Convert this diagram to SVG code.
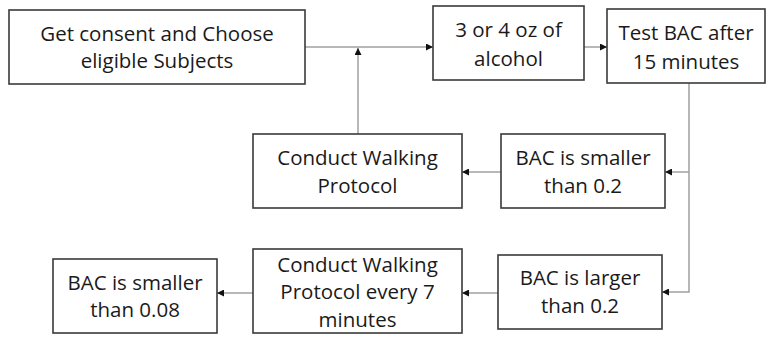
<svg xmlns="http://www.w3.org/2000/svg" width="766" height="337" viewBox="0 0 766 337">
<style>
.box{fill:#fff;stroke:#3a3a3a;stroke-width:1.6}
.t{font-family:"Open Sans","Liberation Sans",Arial,sans-serif;font-size:20.5px;fill:#1a1a1a;text-anchor:middle}
.c{fill:none;stroke:#a0a0a0;stroke-width:1.5}
</style>
<defs>
<marker id="ah" viewBox="0 0 10 10" refX="10" refY="5" markerWidth="7" markerHeight="7" markerUnits="userSpaceOnUse" orient="auto">
<path d="M0,0 L10,5 L0,10 z" fill="#111"/>
</marker>
</defs>
<rect width="766" height="337" fill="#fff"/>
<g id="connectors">
<path class="c" d="M305,47 H433" marker-end="url(#ah)"/>
<path class="c" d="M358,134 V48" marker-end="url(#ah)"/>
<path class="c" d="M584,47 H607" marker-end="url(#ah)"/>
<path class="c" d="M689,83 V292 H662" marker-end="url(#ah)"/>
<path class="c" d="M689,172 H665" marker-end="url(#ah)"/>
<path class="c" d="M501,172 H462" marker-end="url(#ah)"/>
<path class="c" d="M498,293 H462" marker-end="url(#ah)"/>
<path class="c" d="M253,293 H217" marker-end="url(#ah)"/>
</g>
<g id="consent">
<rect class="box" x="9" y="10" width="296" height="74"/>
<text class="t" x="157" y="41">Get consent and Choose</text>
<text class="t" x="157" y="68">eligible Subjects</text>
</g>
<g id="alcohol">
<rect class="box" x="433" y="6" width="151" height="74"/>
<text class="t" x="508.5" y="37">3 or 4 oz of</text>
<text class="t" x="508.5" y="66">alcohol</text>
</g>
<g id="testbac">
<rect class="box" x="607" y="9" width="158" height="74"/>
<text class="t" x="686" y="40">Test BAC after</text>
<text class="t" x="686" y="69">15 minutes</text>
</g>
<g id="walk1">
<rect class="box" x="253" y="134" width="209" height="74"/>
<text class="t" x="357.5" y="165">Conduct Walking</text>
<text class="t" x="357.5" y="193">Protocol</text>
</g>
<g id="smaller02">
<rect class="box" x="501" y="134" width="164" height="74"/>
<text class="t" x="583" y="165">BAC is smaller</text>
<text class="t" x="583" y="193">than 0.2</text>
</g>
<g id="smaller008">
<rect class="box" x="53" y="259" width="164" height="74"/>
<text class="t" x="135" y="290">BAC is smaller</text>
<text class="t" x="135" y="317">than 0.08</text>
</g>
<g id="walk7">
<rect class="box" x="253" y="249" width="209" height="84"/>
<text class="t" x="357.5" y="272">Conduct Walking</text>
<text class="t" x="357.5" y="299">Protocol every 7</text>
<text class="t" x="357.5" y="327">minutes</text>
</g>
<g id="larger02">
<rect class="box" x="498" y="255" width="164" height="74"/>
<text class="t" x="580" y="285">BAC is larger</text>
<text class="t" x="580" y="313">than 0.2</text>
</g>
</svg>
